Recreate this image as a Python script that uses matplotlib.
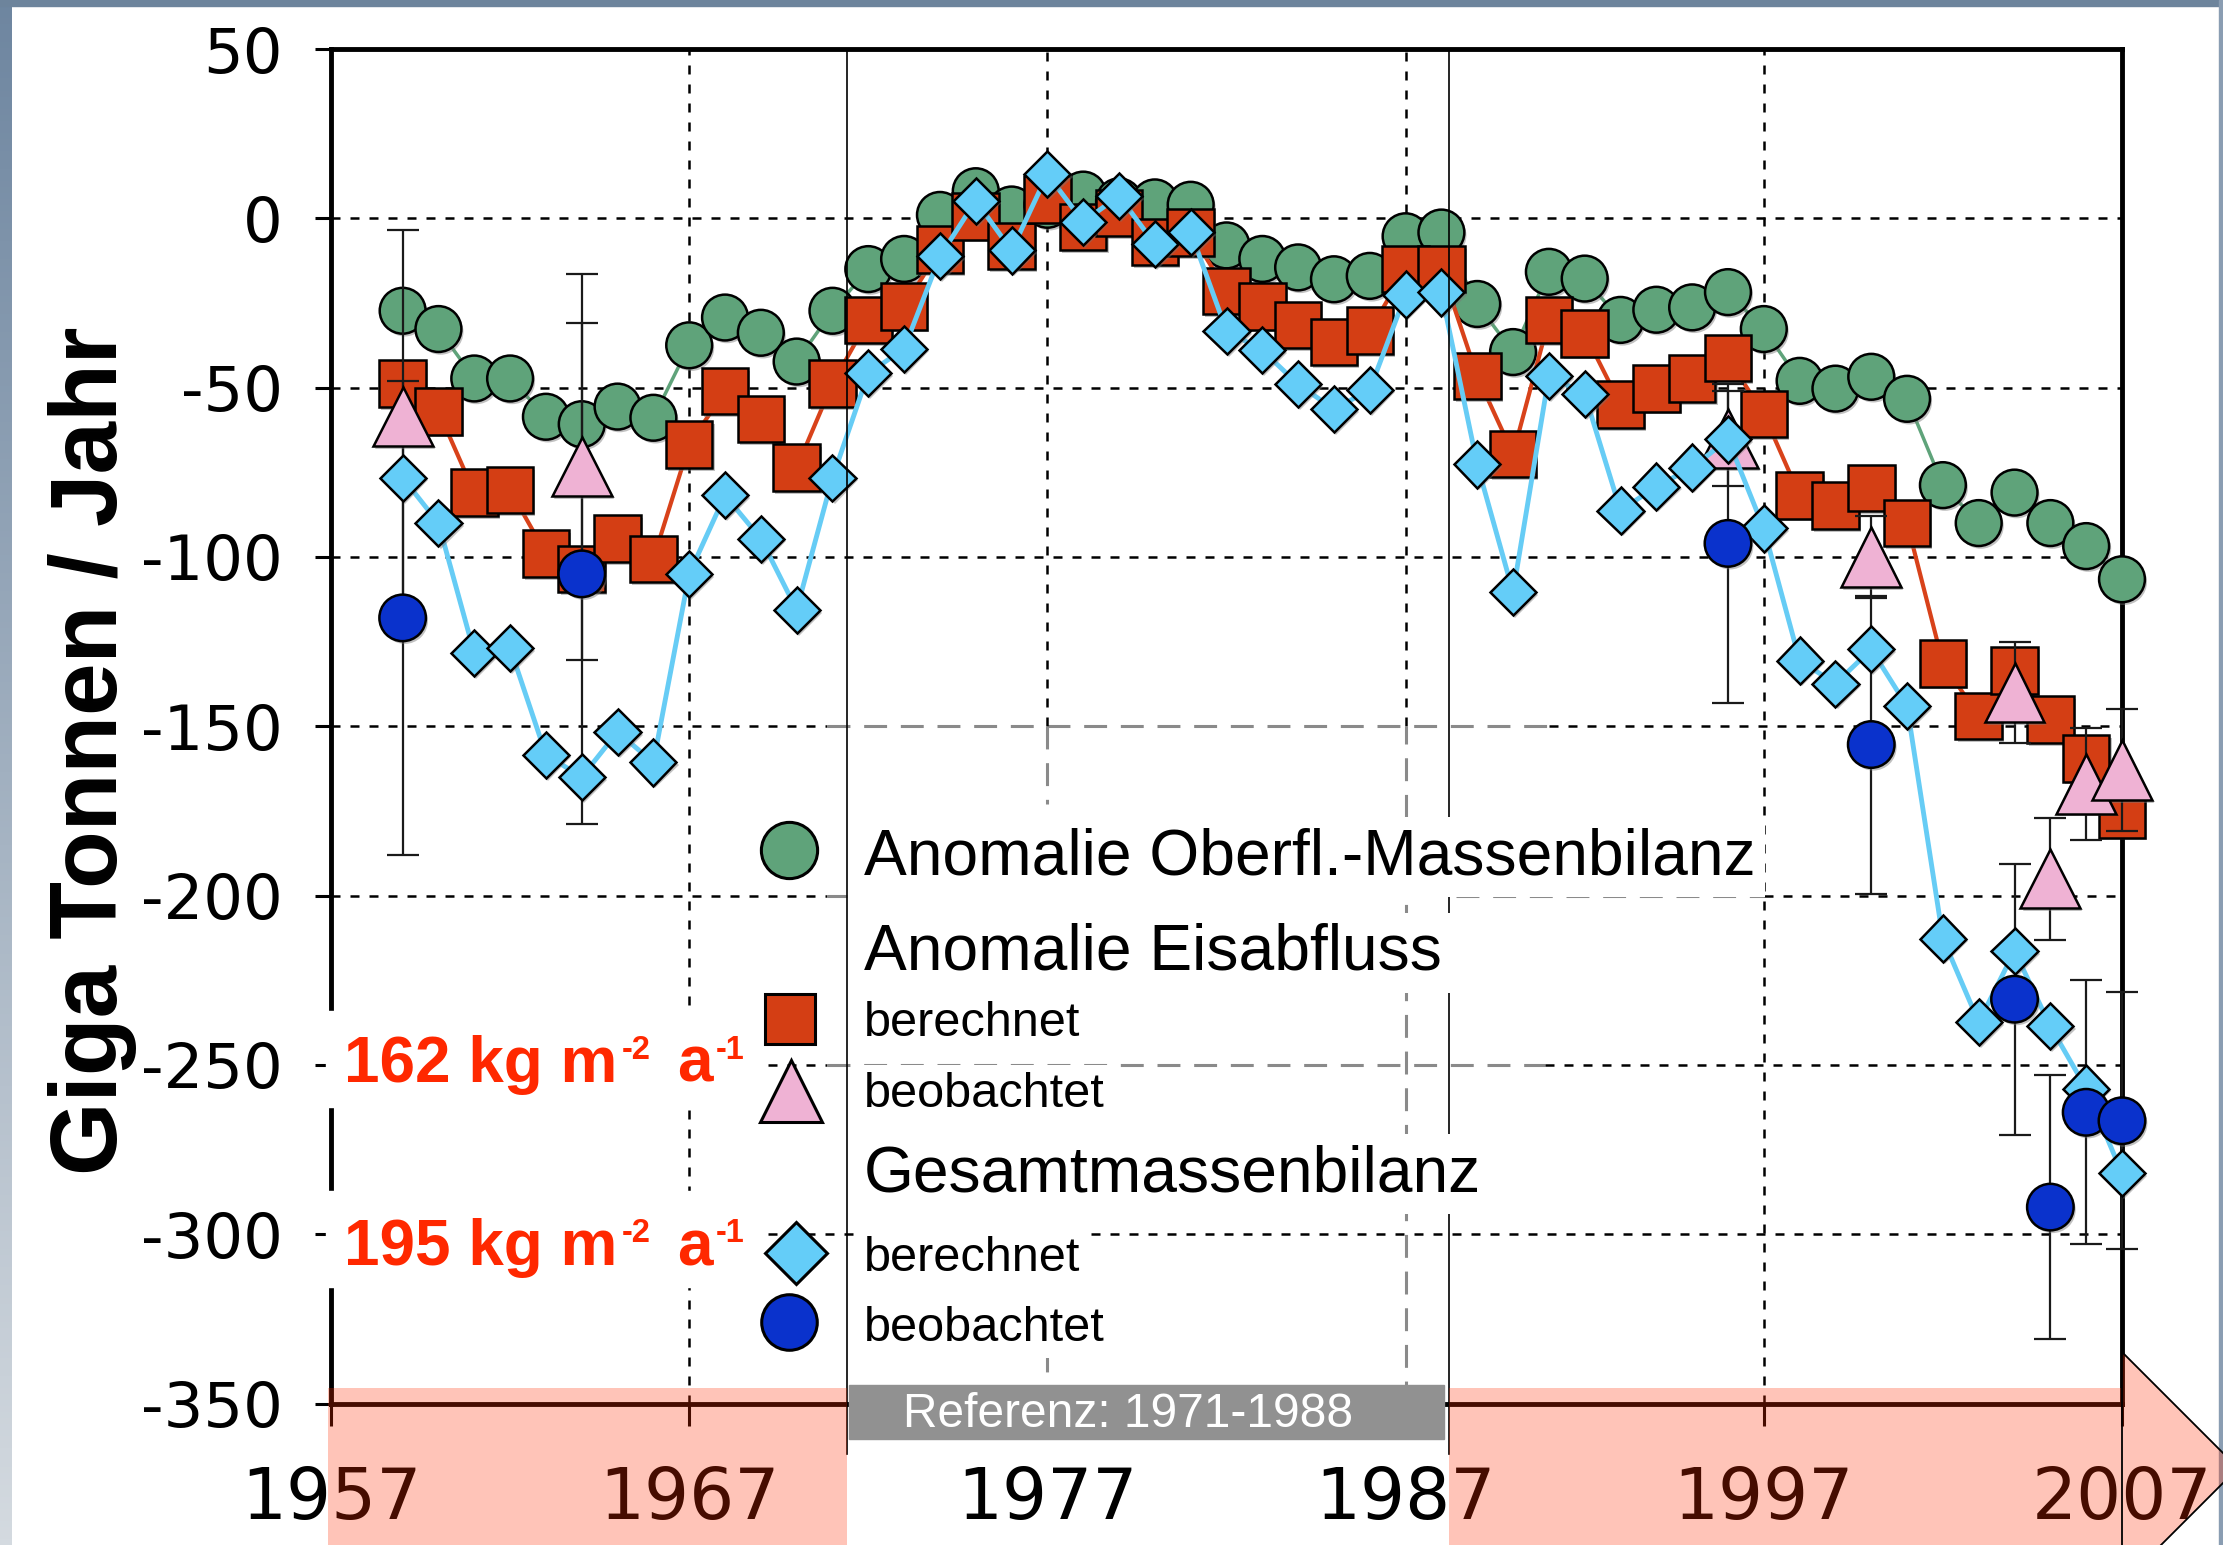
import numpy as np
import matplotlib
matplotlib.use("Agg")
import matplotlib.pyplot as plt
import matplotlib.patheffects as pe
from matplotlib.lines import Line2D
from matplotlib.patches import Rectangle, Polygon
from matplotlib.colors import LinearSegmentedColormap

W, H = 2223, 1545

# Greenland mass balance components, Gt per year
years = list(range(1959, 2008))
smb_anomaly = [
    -27.3, -32.7, -47.3, -47.3, -58.6, -60.8, -55.6, -58.9, -37.5, -29.3,
    -33.8, -42.3, -27.3, -15.0, -12.0, 1.0, 8.0, 2.6, 4.0, 7.0,
    5.0, 4.7, 4.0, -8.0, -12.0, -14.5, -18.0, -17.0, -5.3, -4.2,
    -25.3, -39.5, -15.8, -17.8, -30.0, -27.0, -26.3, -21.8, -32.7, -48.0,
    -50.3, -46.8, -53.3, -78.8, -90.0, -81.0, -90.0, -96.8, -106.6,
]
discharge_calc = [
    -48.8, -57.0, -81.0, -80.3, -99.0, -103.6, -94.6, -100.6, -66.8, -51.0,
    -59.3, -73.6, -48.8, -30.0, -26.0, -9.2, 0.6, -8.2, 5.6, -2.5,
    1.6, -7.0, -4.2, -21.5, -26.0, -31.5, -36.5, -33.2, -15.0, -15.0,
    -46.6, -69.6, -30.0, -34.0, -55.0, -50.2, -47.3, -41.3, -57.8, -81.8,
    -84.8, -79.6, -90.0, -131.4, -147.0, -133.6, -148.0, -159.5, -176.0,
]
total_calc = [
    -76.6, -90.0, -128.4, -126.9, -158.4, -165.0, -151.7, -160.7, -105.0, -81.8,
    -94.6, -115.6, -76.6, -45.8, -38.5, -11.2, 5.2, -9.5, 13.0, -1.0,
    6.6, -7.6, -4.0, -33.2, -39.0, -49.0, -56.4, -50.6, -22.5, -21.9,
    -72.7, -110.4, -46.5, -51.9, -86.3, -79.2, -73.6, -65.3, -91.6, -130.6,
    -137.4, -127.3, -144.1, -212.7, -237.4, -216.4, -238.6, -257.0, -282.0,
]

obs_years = [1959, 1964, 1996, 2000, 2004, 2005, 2006, 2007]
discharge_obs = [-58.5, -73.3, -65.0, -100.0, -140.0, -195.0, -167.0, -163.0]
discharge_obs_err = [55, 57, 14, 12, 15, 18, 16.5, 18]
total_obs = [-118.0, -105.0, -96.0, -155.4, -230.6, -292.0, -264.0, -266.5]
total_obs_err = [70, 74, 47, 44, 40, 39, 39, 38]

ref_period = [1971.4, 1988.2]
y_ticks = [50, 0, -50, -100, -150, -200, -250, -300, -350]
x_ticks = [1957, 1967, 1977, 1987, 1997, 2007]

GREEN = "#5FA37A"
RED = "#D43E14"
PINK = "#EFB2D4"
LIGHTBLUE = "#64CDF8"
DARKBLUE = "#0A32CC"
NOTE_RED = "#FF2800"

plt.rcParams["font.family"] = ["Liberation Sans", "DejaVu Sans"]
plt.rcParams["axes.unicode_minus"] = False


def fx(px):
    return px / W


def fy(py):
    return 1 - py / H


fig = plt.figure(figsize=(W / 100, H / 100), dpi=100)
fig.patch.set_facecolor("white")
renderer = fig.canvas.get_renderer()

# slide frame: gradient strip on the left, bar on top
bg = fig.add_axes([0, 0, fx(12), 1])
cmap = LinearSegmentedColormap.from_list("frame", ["#6E86A0", "#D4DAE0"])
bg.imshow(np.linspace(0, 1, 256).reshape(-1, 1), aspect="auto", cmap=cmap)
bg.axis("off")
fig.add_artist(Rectangle((0, fy(6)), 1, fy(0) - fy(6), transform=fig.transFigure,
                         color="#6D849C", zorder=1))
fig.add_artist(Rectangle((fx(2219), 0), fx(2223) - fx(2219), 1, transform=fig.transFigure,
                         color="#8A9DB2", zorder=1))

ax = fig.add_axes([fx(331), fy(1403.5), fx(2122) - fx(331), fy(49) - fy(1403.5)])
ax.set_xlim(1957, 2007)
ax.set_ylim(-350, 50)

# grid drawn by hand: part of it is grey with longer dashes
dot = dict(color="black", lw=1.8, linestyle=(0, (3.6, 4.0)), zorder=1)
gray = dict(color="#8a8a8a", lw=2.2, linestyle=(0, (7.5, 4.5)), zorder=1)
for y in [0, -50, -100, -300]:
    ax.plot([1957, 2007], [y, y], **dot)
gray_spans = {
    -150: [(1970.85, 1991.0)],
    -200: [(1970.85, 1971.4), (1988.4, 1997.0)],
    -250: [(1970.85, 1990.9)],
}
for y, spans in gray_spans.items():
    ax.plot([1957, spans[0][0]], [y, y], **dot)
    for a, b in spans:
        ax.plot([a, b], [y, y], **gray)
    ax.plot([spans[-1][1], 2007], [y, y], **dot)
for x in [1967, 1997]:
    ax.plot([x, x], [-350, 50], **dot)
ax.plot([1977, 1977], [-150, 50], **dot)
ax.plot([1977, 1977], [-150, -173], **gray)
ax.plot([1977, 1977], [-334, -350], **gray)
ax.plot([1987, 1987], [-150, 50], **dot)
ax.plot([1987, 1987], [-350, -150], **gray)

for x in ref_period:
    ax.plot([x, x], [50, -365], color="black", lw=1.2, zorder=5, clip_on=False)

shadow = [pe.SimplePatchShadow(offset=(1.5, -2), shadow_rgbFace="#777777", alpha=0.45),
          pe.Normal()]
mk = dict(ls="none", mec="black", mew=1.8, clip_on=False, path_effects=shadow)

ax.plot(years, smb_anomaly, color=GREEN, lw=2.5, zorder=3.0)
ax.plot(years, smb_anomaly, marker="o", ms=33, mfc=GREEN, zorder=3.05, **mk)
ax.plot(years, discharge_calc, color="#D8421A", lw=3, zorder=3.1)
ax.plot(years, discharge_calc, marker="s", ms=33.5, mfc=RED, zorder=3.15, **mk)

for vals, errs in [(discharge_obs, discharge_obs_err), (total_obs, total_obs_err)]:
    eb = ax.errorbar(obs_years, vals, yerr=errs, fmt="none", ecolor="#1a1a1a",
                     elinewidth=1.6, capsize=11.5, capthick=1.6, zorder=3.3)
    for art in list(eb.lines[1]) + list(eb.lines[2]):
        art.set_clip_on(False)

ax.plot(obs_years, discharge_obs, marker="^", ms=43, mfc=PINK, zorder=3.4, **mk)
ax.plot(years, total_calc, color="#66CCF5", lw=3.5, zorder=3.5)
ax.plot(years, total_calc, marker="D", ms=23.5, mfc=LIGHTBLUE, zorder=3.6, **mk)
ax.plot(obs_years, total_obs, marker="o", ms=33.5, mfc=DARKBLUE, zorder=3.7, **mk)

ax.set_yticks(y_ticks)
ax.set_yticklabels([str(v) for v in y_ticks], fontfamily="DejaVu Sans", fontsize=45)
ax.set_xticks(x_ticks)
ax.set_xticklabels([str(v) for v in x_ticks], fontfamily="DejaVu Sans", fontsize=51)
ax.tick_params(axis="y", direction="out", length=11.5, width=2.2, pad=23)
ax.tick_params(axis="x", direction="out", length=16, width=2.2, pad=28)
for s in ax.spines.values():
    s.set_linewidth(3.5)
    s.set_color("black")

fig.text(fx(93), fy(751), "Giga Tonnen / Jahr", rotation=90, ha="center", va="center",
         fontsize=68, fontweight="bold")

# legend built by hand
leg_markers = [
    (789, 850, "o", 40.5, GREEN),
    (790, 1019, "s", 36, RED),
    (791, 1091, "^", 44.5, PINK),
    (796, 1253, "D", 31.5, LIGHTBLUE),
    (789, 1322, "o", 40, DARKBLUE),
]
for px, py, m, size, c in leg_markers:
    fig.add_artist(Line2D([fx(px)], [fy(py)], transform=fig.transFigure, marker=m, ms=size,
                          mfc=c, mec="black", mew=2.2, ls="none", zorder=3))

leg_texts = [
    (874, "Anomalie Oberfl.-Massenbilanz", 46.2),
    (970, "Anomalie Eisabfluss", 46.2),
    (1036, "berechnet", 35),
    (1107, "beobachtet", 35),
    (1191, "Gesamtmassenbilanz", 46.2),
    (1271, "berechnet", 35),
    (1341, "beobachtet", 35),
]
for py, txt, size in leg_texts:
    fig.text(fx(864), fy(py), txt, fontsize=size, ha="left", va="baseline", zorder=3,
             bbox=dict(boxstyle="square,pad=0.15", fc="white", ec="none"))

# red annotations on white boxes, superscripts placed piece by piece
for top, bottom, base, label in [(1011, 1107, 1082, "162"), (1191, 1287, 1265, "195")]:
    fig.add_artist(Rectangle((fx(326), fy(bottom)), fx(760) - fx(326), fy(top) - fy(bottom),
                             transform=fig.transFigure, color="white", zorder=2))
    pieces = [(label + " kg m", 46, 0, 4), ("-2", 23.5, 23, 27), ("a", 46, 0, 3), ("-1", 23.5, 23, 0)]
    x = 344
    for s, size, rise, gap in pieces:
        t = fig.text(fx(x), fy(base - rise), s, color=NOTE_RED, fontsize=size,
                     fontweight="bold", ha="left", va="baseline", zorder=4)
        x += t.get_window_extent(renderer).width + gap

# translucent timeline band with arrow head
band_kw = dict(transform=fig.transFigure, closed=True, facecolor="#FF2E00", alpha=0.28,
               edgecolor="none", zorder=2)
fig.add_artist(Polygon([(fx(328), fy(1388)), (fx(847), fy(1388)), (fx(847), fy(1560)),
                        (fx(328), fy(1560))], **band_kw))
fig.add_artist(Polygon([(fx(1449), fy(1388)), (fx(2122), fy(1388)), (fx(2122), fy(1352)),
                        (fx(2238), fy(1468)), (fx(2122), fy(1584)), (fx(1449), fy(1584))],
                       **band_kw))
fig.add_artist(Line2D([fx(2122), fx(2238), fx(2122), fx(2122)],
                      [fy(1352), fy(1468), fy(1584), fy(1352)],
                      transform=fig.transFigure, color="black", lw=1.3, zorder=3))

fig.add_artist(Rectangle((fx(849), fy(1439)), fx(1444) - fx(849), fy(1385) - fy(1439),
                         transform=fig.transFigure, color="#919191", zorder=3))
fig.text(fx(903), fy(1427), "Referenz: 1971-1988", color="white", fontsize=34.5,
         ha="left", va="baseline", zorder=4)

fig.savefig("out.png", dpi=100)
